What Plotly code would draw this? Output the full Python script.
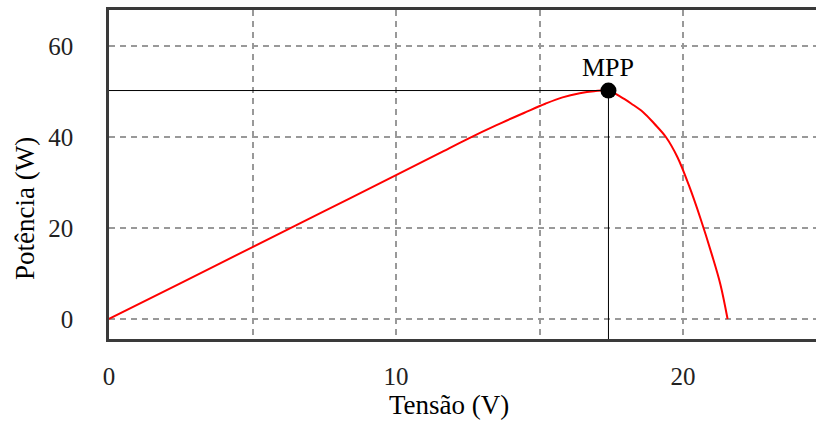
import plotly.graph_objects as go

# Data
tensao = [0, 2.5, 5, 7.5, 10, 11.5, 12.5, 13.5, 14.5, 15.2, 15.8, 16.4, 16.9, 17.4,
          17.8, 18.2, 18.6, 19.0, 19.4, 19.8, 20.2, 20.6, 21.0, 21.3, 21.55]
potencia = [0, 7.9, 15.8, 23.7, 31.6, 36.4, 39.6, 42.6, 45.4, 47.3, 48.7, 49.6, 50.05, 50.2,
            48.9, 47.3, 45.5, 42.9, 40.0, 35.6, 29.4, 22.2, 14.2, 7.6, 0]
mpp_v = 17.4
mpp_p = 50.2
x_tickvals = [0, 5, 10, 15, 20]
x_ticktext = ["0", "", "10", "", "20"]
y_tickvals = [0, 20, 40, 60]
y_ticktext = ["0", "20", "40", "60"]
x_range = [0, 24.63]
y_range = [-4.4, 67.9]

SERIF = "Liberation Serif"

fig = go.Figure()
fig.add_trace(go.Scatter(x=tensao, y=potencia, mode="lines",
                         line=dict(color="#ff0000", width=2, shape="spline", smoothing=1.0),
                         hoverinfo="skip", showlegend=False))

# MPP guide lines
fig.add_shape(type="line", x0=x_range[0], x1=mpp_v, y0=mpp_p, y1=mpp_p,
              line=dict(color="black", width=1))
fig.add_shape(type="line", x0=mpp_v, x1=mpp_v, y0=y_range[0], y1=mpp_p,
              line=dict(color="black", width=1))

fig.add_trace(go.Scatter(x=[mpp_v], y=[mpp_p], mode="markers",
                         marker=dict(color="black", size=16),
                         showlegend=False, hoverinfo="skip"))
fig.add_annotation(x=mpp_v, y=mpp_p, text="MPP", showarrow=False, yshift=23,
                   font=dict(family=SERIF, size=26, color="black"))

# Axis titles as annotations (positioned as in reference, paper = plot area)
fig.add_annotation(x=0.481, y=-0.20, xref="paper", yref="paper",
                   xanchor="center", yanchor="middle", text="Tensão (V)", showarrow=False,
                   font=dict(family=SERIF, size=27, color="black"))
fig.add_annotation(x=-0.119, y=0.398, xref="paper", yref="paper",
                   xanchor="center", yanchor="middle", text="Potência (W)", showarrow=False,
                   textangle=-90, font=dict(family=SERIF, size=27, color="black"))

fig.update_layout(
    width=816, height=421,
    margin=dict(l=109, r=0, t=10, b=82, autoexpand=False),
    paper_bgcolor="white", plot_bgcolor="white",
    xaxis=dict(range=x_range, tickvals=x_tickvals, ticktext=x_ticktext,
               showgrid=True, gridcolor="#999999", gridwidth=2, griddash="6px,5px",
               zeroline=False, showline=True, linecolor="#3a3a3a", linewidth=2.5,
               mirror=True, ticks="", ticklabelstandoff=13,
               tickfont=dict(family=SERIF, size=25, color="#222")),
    yaxis=dict(range=y_range, tickvals=y_tickvals, ticktext=y_ticktext,
               showgrid=True, gridcolor="#999999", gridwidth=2, griddash="6px,5px",
               zeroline=False, showline=True, linecolor="#3a3a3a", linewidth=2.5,
               mirror=False, ticks="", ticklabelstandoff=28,
               tickfont=dict(family=SERIF, size=25, color="#222")),
)

fig.write_html("out.html", config={"displayModeBar": False},
               post_script="document.body.style.margin='0';document.body.style.overflow='hidden';")
